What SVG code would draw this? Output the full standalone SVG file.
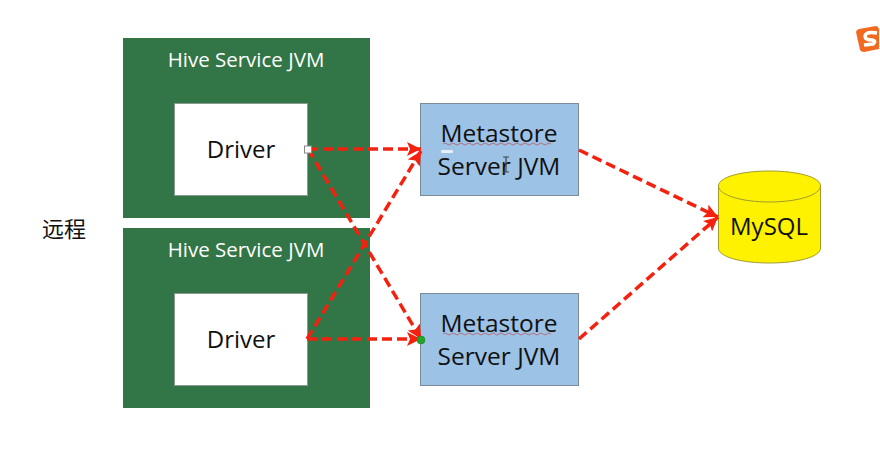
<svg xmlns="http://www.w3.org/2000/svg" width="880" height="469" viewBox="0 0 880 469">
<defs>
<marker id="arrow" markerUnits="userSpaceOnUse" markerWidth="15" markerHeight="14" refX="14" refY="7" orient="auto"><path d="M0 0L14 7L0 14L3 7Z" fill="#f5210f"/></marker>
</defs>
<style>
text{font-family:"Open Sans","Noto Sans","Liberation Sans","Noto Sans CJK SC",sans-serif;text-anchor:middle;fill:#111}
.svc{fill:#327546}
.svc-label{fill:#fff;font-size:20.500px}
.drv{fill:#fff;stroke:#8a9a90;stroke-width:1}
.drv-label{font-size:24px}
.meta{fill:#9cc2e6;stroke:#7d8a98;stroke-width:1}
.meta-label{font-size:24.500px}
.conn{fill:none;stroke:#f5210f;stroke-width:3.500;stroke-dasharray:10 5;marker-end:url(#arrow)}
</style>
<rect width="880" height="469" fill="#fff"/>
<g id="hive-service-1"><rect class="svc" x="123" y="38" width="247" height="180"/><text class="svc-label" x="246" y="67">Hive Service JVM</text></g>
<g id="hive-service-2"><rect class="svc" x="123" y="228" width="247" height="180"/><text class="svc-label" x="246" y="257">Hive Service JVM</text></g>
<g id="driver-1"><rect class="drv" x="174.500" y="103.500" width="133" height="92"/><text class="drv-label" x="241" y="158">Driver</text></g>
<g id="driver-2"><rect class="drv" x="174.500" y="293.500" width="133" height="92"/><text class="drv-label" x="241" y="348">Driver</text></g>
<g id="metastore-1"><rect class="meta" x="420.500" y="103.500" width="158" height="92"/><text class="meta-label" x="499" y="142">Metastore</text><text class="meta-label" x="499" y="175">Server JVM</text>
<path d="M443 144q2-2 4 0t4 0 4 0 4 0 4 0 4 0 4 0 4 0 4 0 4 0 4 0 4 0 4 0 4 0 4 0 4 0 4 0 4 0 4 0 4 0 4 0 4 0 4 0 4 0 4 0 4 0 4 0" fill="none" stroke="#c0504d" stroke-width="1" opacity=".7"/>
<rect x="441" y="150" width="12" height="3" rx="1" fill="#e8eef5"/>
<path d="M503 157h6M503 172h6M506 157v15" fill="none" stroke="#444" stroke-width="1.200"/></g>
<g id="metastore-2"><rect class="meta" x="420.500" y="293.500" width="158" height="92"/><text class="meta-label" x="499" y="332">Metastore</text><text class="meta-label" x="499" y="365">Server JVM</text>
<path d="M443 334q2-2 4 0t4 0 4 0 4 0 4 0 4 0 4 0 4 0 4 0 4 0 4 0 4 0 4 0 4 0 4 0 4 0 4 0 4 0 4 0 4 0 4 0 4 0 4 0 4 0 4 0 4 0 4 0" fill="none" stroke="#c0504d" stroke-width="1" opacity=".7"/></g>
<g id="mysql"><path d="M718.500 186c0-9 23-15 51-15s51 6 51 15v62c0 9-23 15-51 15s-51-6-51-15Z" fill="#fff200" stroke="#a09a30" stroke-width="1"/><path d="M718.500 186c0 9 23 16 51 16s51-7 51-16" fill="none" stroke="#a09a30" stroke-width="1"/><text x="769" y="235" font-size="24">MySQL</text></g>
<g id="label-remote"><text x="64" y="237" font-size="22" style="font-family:'Noto Sans CJK SC',sans-serif">远程</text></g>
<g id="connectors">
<path class="conn" d="M308 149H421"/>
<path class="conn" d="M308 149L421 339"/>
<path class="conn" d="M307 339H421"/>
<path class="conn" d="M307 339L421 151"/>
<path class="conn" d="M579 150L718 217"/>
<path class="conn" d="M579 339L718 217"/>
</g>
<rect id="handle" x="304.500" y="146" width="7" height="7" fill="#fff" stroke="#888" stroke-width="1"/>
<circle id="anchor" cx="421" cy="340" r="4" fill="#22a52a" stroke="#1a7a20" stroke-width=".5"/>
<g id="tray-icon"><path d="M859 29L876 26Q878 26 879 29V49L864 52Q861 52 860 50L856 32Q856 30 859 29Z" fill="#f26a21"/><path d="M877 33Q866 31 865 36Q865 40 872 40Q877 41 873 44L864 45" fill="none" stroke="#fff" stroke-width="3.500"/></g>
</svg>
